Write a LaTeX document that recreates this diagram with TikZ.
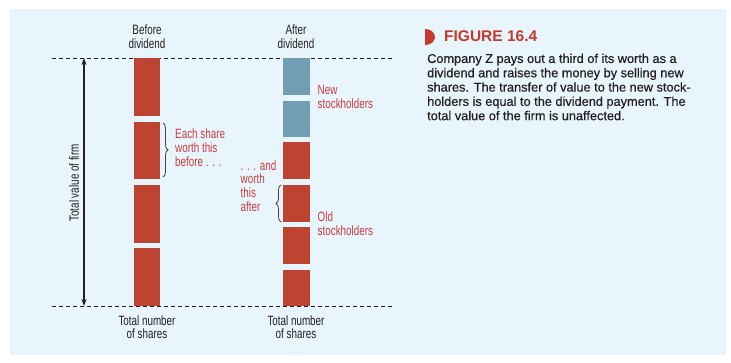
\documentclass[tikz,border=0pt]{standalone}
\usepackage{fontspec}
\setmainfont{Liberation Sans}
\newfontfamily\condfont[FakeStretch=0.73]{Liberation Sans}
\newfontfamily\bodyfont[FakeBold=0.5]{Liberation Sans}
\usetikzlibrary{decorations.pathreplacing,arrows.meta}
\definecolor{bg}{HTML}{E8F5FC}
\definecolor{barred}{HTML}{BC4430}
\definecolor{barblue}{HTML}{729EB3}
\definecolor{labred}{HTML}{CC3A3C}
\definecolor{titred}{HTML}{C53A2C}
\definecolor{ink}{HTML}{231F20}
\begin{document}
\begin{tikzpicture}[x=1pt,y=-1pt,
  lab/.style={font=\condfont\fontsize{13.5}{14}\selectfont, text=ink, align=center, inner sep=0pt},
  redlab/.style={font=\condfont\fontsize{13.5}{14}\selectfont, text=labred, align=left, inner sep=0pt, anchor=west},
  rbar/.style={fill=barred},
  bbar/.style={fill=barblue},
  dashline/.style={draw=ink, line width=0.8pt, dash pattern=on 4pt off 3pt},
  bracestyle/.style={draw=ink!85, line width=0.8pt, decorate, decoration={brace, amplitude=5pt}},
  body/.style={font=\bodyfont\fontsize{12.75}{14.3}\selectfont, text=ink, align=left, inner sep=0pt, anchor=west}
]
\useasboundingbox (0,0) rectangle (731,362);
\fill[bg] (10,9) rectangle (726,355);

% dashed reference lines
\coordinate (dtl) at (52,58);
\coordinate (dtr) at (393,58);
\coordinate (dbl) at (52,306);
\coordinate (dbr) at (393,306);
\draw[dashline] (dtl) -- (dtr);
\draw[dashline] (dbl) -- (dbr);

% before bars
\fill[rbar] (134,58) rectangle (160,116);
\fill[rbar] (134,122) rectangle (160,179);
\fill[rbar] (134,185) rectangle (160,243);
\fill[rbar] (134,248) rectangle (160,306);

% after bars
\fill[bbar] (283,58) rectangle (310,95);
\fill[bbar] (283,101) rectangle (310,137);
\fill[rbar] (283,142) rectangle (310,179);
\fill[rbar] (283,185) rectangle (310,222);
\fill[rbar] (283,227) rectangle (310,264);
\fill[rbar] (283,270) rectangle (310,306);

% total value arrow
\coordinate (vtop) at (84,58);
\coordinate (vbot) at (84,306);
\draw[ink, line width=1.3pt, {Stealth[length=7pt,width=5pt]}-{Stealth[length=7pt,width=5pt]}] (vbot) -- (vtop);
\node[lab, rotate=90] (tvf) at (74,183) {Total value of firm};

% headings
\node[lab] (before) at (147,37) {Before\\dividend};
\node[lab] (after) at (296,37) {After\\dividend};
\node[lab, font=\condfont\fontsize{13.5}{13.5}\selectfont] (tn1) at (147,327) {Total number\\of shares};
\node[lab, font=\condfont\fontsize{13.5}{13.5}\selectfont] (tn2) at (296,327) {Total number\\of shares};

% braces
\coordinate (b1s) at (163,123);
\coordinate (b1e) at (163,177);
\draw[bracestyle] (b1s) -- (b1e);
\coordinate (b2s) at (281,222);
\coordinate (b2e) at (281,185);
\draw[bracestyle] (b2s) -- (b2e);

% red labels
\node[redlab] (each) at (175,148) {Each share\\worth this\\before . . .};
\node[redlab, font=\condfont\fontsize{13.5}{13.7}\selectfont] (andw) at (240.5,186) {. . . and\\worth\\this\\after};
\node[redlab] (newst) at (317.5,97) {New\\stockholders};
\node[redlab] (oldst) at (317.5,224) {Old\\stockholders};

% figure caption
\fill[titred] (425,45) arc[start angle=90, end angle=-90, x radius=10, y radius=8] -- cycle;
\node[font=\bfseries\fontsize{15.5}{17}\selectfont, text=titred, anchor=west, inner sep=0pt] (fig) at (444,36.5) {FIGURE 16.4};
\node[body] (cap) at (427,87) {Company Z pays out a third of its worth as a\\dividend and raises the money by selling new\\shares. The transfer of value to the new stock-\\holders is equal to the dividend payment. The\\total value of the firm is unaffected.};
\end{tikzpicture}
\end{document}
